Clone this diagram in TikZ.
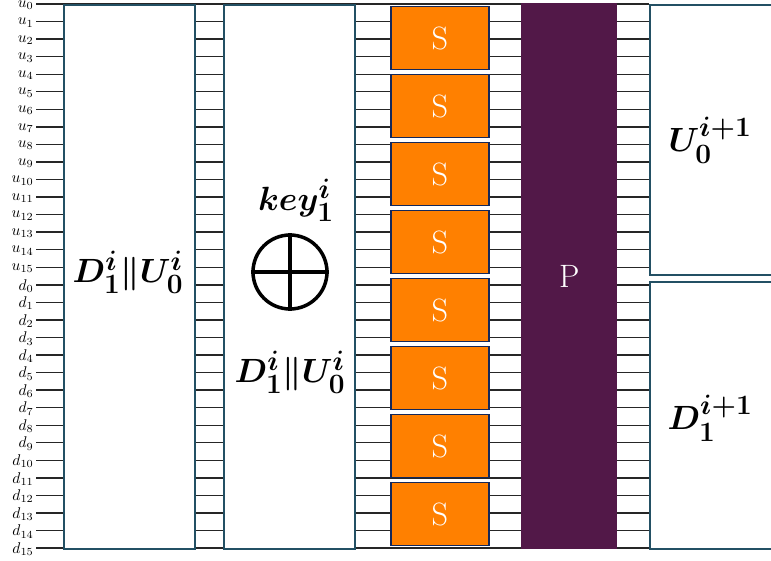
\documentclass[tikz,border=0pt]{standalone}
\usepackage{amsmath,bm}
\definecolor{boxteal}{RGB}{35,80,100}
\definecolor{sfill}{RGB}{255,128,0}
\definecolor{sborder}{RGB}{20,40,90}
\definecolor{pfill}{RGB}{82,24,72}
\tikzset{
  wire/.style={line width=1.4pt,black!85},
  tallbox/.style={draw=boxteal,line width=1.8pt,fill=white,rectangle,inner sep=0pt,anchor=north west},
  sbox/.style={draw=sborder,line width=1.8pt,fill=sfill,rectangle,inner sep=0pt,minimum width=98pt,minimum height=63pt},
  stext/.style={text=white,font=\Huge,scale=1.3},
  wlabel/.style={anchor=east,inner sep=0pt,font=\normalsize,scale=1.55},
  bigtext/.style={font=\Huge,scale=1.35}
}
\begin{document}
\begin{tikzpicture}[x=1pt,y=-1pt]
\useasboundingbox (0,0) rectangle (771,560);
\clip (0,0) rectangle (771,560);
% wires
\foreach \k in {0,...,31} {
  \pgfmathsetmacro{\yy}{4+17.55*\k}
  \coordinate (w\k) at (36,\yy);
  \draw[wire] (w\k) -- (649,\yy);
}
\foreach \k in {0,...,15} {
  \node[wlabel] (lu\k) at ([xshift=-2pt,yshift=-1pt]w\k) {$u_{\k}$};
  \pgfmathtruncatemacro{\kk}{\k+16}
  \node[wlabel] (ld\k) at ([xshift=-2pt,yshift=-1pt]w\kk) {$d_{\k}$};
}
% boxes
\node[tallbox,minimum width=131pt,minimum height=544pt] (b1) at (63,4) {};
\node[tallbox,minimum width=131pt,minimum height=544pt] (b2) at (223,4) {};
\node[fill=pfill,rectangle,inner sep=0pt,minimum width=96pt,minimum height=546pt,anchor=north west] (P) at (521,3) {};
\node[stext] (Pt) at (P.center) {P};
\foreach \k in {0,...,7} {
  \node[sbox] (s\k) at (440,{4+68*(\k+0.5)}) {};
  \node[stext] (st\k) at (s\k.center) {S};
}
\node[tallbox,minimum width=140pt,minimum height=270pt] (r1) at (649,4) {};
\node[tallbox,minimum width=140pt,minimum height=267pt] (r2) at (649,281) {};
% texts
\node[bigtext] (t1) at (128,272) {$\bm{D_1^i\|U_0^i}$};
\node[bigtext] (k1) at (296,200) {$\bm{key_1^i}$};
\node[draw,circle,line width=3.5pt,minimum size=74pt,inner sep=0pt] (xr) at (290,272) {};
\draw[line width=3.5pt] (xr.north) -- (xr.south) (xr.west) -- (xr.east);
\node[bigtext] (t2) at (290,372) {$\bm{D_1^i\|U_0^i}$};
\node[bigtext] (t3) at (710,140) {$\bm{U_0^{i+1}}$};
\node[bigtext] (t4) at (710,418) {$\bm{D_1^{i+1}}$};
\end{tikzpicture}
\end{document}
